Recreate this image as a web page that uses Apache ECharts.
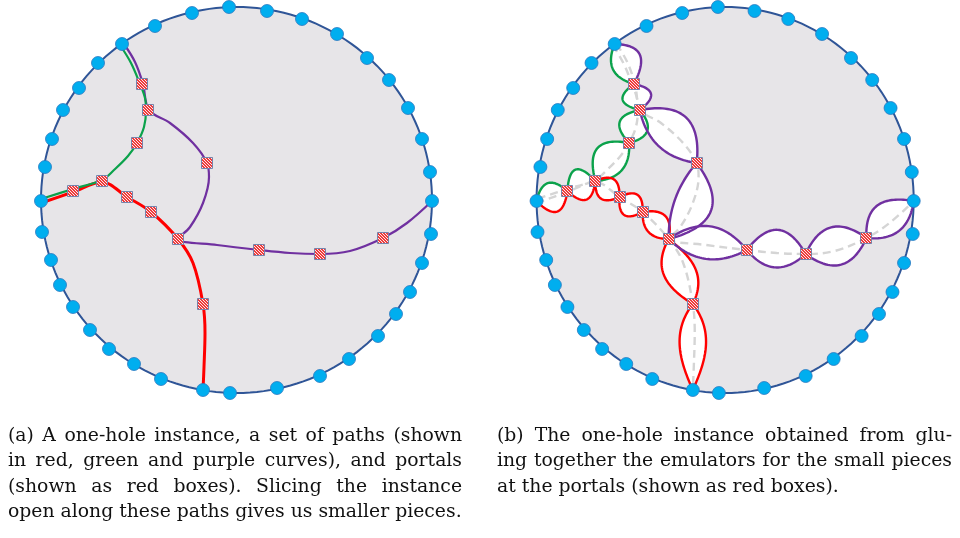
<!DOCTYPE html>
<html>
<head>
<meta charset="utf-8">
<script src="https://cdn.jsdelivr.net/npm/echarts@6/dist/echarts.min.js"></script>
<style>
  html, body { margin: 0; background: #fff; }
  #chart { width: 960px; height: 538px; }
</style>
</head>
<body>
<div id="chart"></div>
<script>
// ---- data (panel units, both panels share the same frame) ----

// hole outline: cx, cy, rx, ry
const holeOutline = [236.5, 200, 195.5, 193];

// blue terminals on the hole boundary
const rimDots = [
  [229, 7], [267, 11], [302, 19], [337, 34], [367, 58], [389, 80], [408, 108], [422, 139],
  [430, 172], [432, 201], [431, 234], [422, 263], [410, 292], [396, 314], [378, 336], [349, 359],
  [320, 376], [277, 388], [230, 393], [203, 390], [161, 379], [134, 364], [109, 349], [90, 330],
  [73, 307], [60, 285], [51, 260], [42, 232], [41, 201], [45, 167], [52, 139], [63, 110],
  [79, 88], [98, 63], [122, 44], [155, 26], [192, 13]
];

// portals (red boxes) P1..P13
const portals = [
  [142, 84], [148, 110], [137, 143], [207, 163], [102, 181], [73, 191], [127, 197],
  [151, 212], [178, 239], [259, 250], [320, 254], [383, 238], [203, 304]
];

// the three slicing paths
const purplePath = [
  [124, 44], [135, 62], [143, 84], [149, 110], [170, 123], [193, 143], [207, 163], [209, 177],
  [203, 203], [190, 227], [178, 239], [217, 245], [259, 250], [290, 253], [320, 254], [350, 251],
  [383, 238], [407, 223], [432, 201]
];
const greenPath = [
  [120, 45], [131, 63], [140, 84], [145, 98], [146, 110], [144, 127], [137, 143], [128, 156],
  [114, 170], [102, 180], [73, 189], [41, 199]
];
const redPath = [
  [41, 203], [73, 192], [102, 182], [127, 197], [151, 212], [178, 239], [193, 263], [203, 304],
  [205, 333], [204, 367], [203, 390]
];

// path end points on the rim
const rimEnds = { T: [122, 44], L: [41, 201], R: [432, 201], D: [203, 390] };

// emulator lenses of panel (b): from, to,
// right-hand bulge height (near start, near end), colour, left-hand bulge height (start, end), colour
const lenses = [
  ['T', 'P1', 13, 13, 'g', 22, 15, 'p'],
  ['P1', 'P2', 16, 14, 'g', 15, 15, 'p'],
  ['P2', 'P3', 16, 16, 'g', 14, 14, 'g'],
  ['P3', 'P5', 22, 20, 'g', 13, 13, 'g'],
  ['P5', 'P6', 18, 18, 'g', 15, 15, 'r'],
  ['P6', 'L', 14, 14, 'g', 17, 17, 'r'],
  ['P5', 'P7', 12, 12, 'r', 12, 12, 'r'],
  ['P7', 'P8', 13, 13, 'r', 12, 12, 'r'],
  ['P8', 'P9', 10, 10, 'r', 14, 14, 'r'],
  ['P9', 'P13', 21, 14, 'r', 11, 19, 'r'],
  ['P13', 'D', 17, 10, 'r', 17, 10, 'r'],
  ['P2', 'P4', 14, 14, 'p', 27, 27, 'p'],
  ['P4', 'P9', 8, 8, 'p', 32, 30, 'p'],
  ['P9', 'P10', 15, 15, 'p', 19, 19, 'p'],
  ['P10', 'P11', 16, 16, 'p', 23, 23, 'p'],
  ['P11', 'P12', 20, 20, 'p', 20, 20, 'p'],
  ['P12', 'R', 15, 15, 'p', 22, 17, 'p']
];

const captionA = [
  '(a) A one-hole instance, a set of paths (shown',
  'in red, green and purple curves), and portals',
  '(shown as red boxes). Slicing the instance',
  'open along these paths gives us smaller pieces.'
];
const captionB = [
  '(b) The one-hole instance obtained from glu-',
  'ing together the emulators for the small pieces',
  'at the portals (shown as red boxes).'
];

// ---- styling ----
const COLORS = { r: '#ff0000', g: '#0ba24b', p: '#7030a0' };
const FILL = '#e7e5e8';
const RIM = '#2f5597';
const LENS_SHAPE = 2.0; // flank exponent of the lens profile

const knots = Object.assign({}, rimEnds);
portals.forEach((p, i) => { knots['P' + (i + 1)] = p; });

const lensData = lenses.map(l => [...knots[l[0]], ...knots[l[1]], l[2], l[3], l[5], l[6]]);
const lensColours = lenses.map(l => [COLORS[l[4]], COLORS[l[7]]]);

// hatched red fill for portal boxes
const hatch = document.createElement('canvas');
hatch.width = 3; hatch.height = 3;
(() => {
  const c = hatch.getContext('2d');
  for (let y = 0; y < 3; y++) {
    for (let x = 0; x < 3; x++) {
      c.fillStyle = ((x - y + 3) % 3 < 2) ? '#ef3a3a' : '#fde8e8';
      c.fillRect(x, y, 1, 1);
    }
  }
})();

function renderHole(params, api) {
  const c = api.coord([api.value(0), api.value(1)]);
  const s = api.size([1, 1]);
  const rx = api.value(2) * s[0], ry = api.value(3) * s[1];
  const pts = [];
  for (let i = 0; i < 180; i++) {
    const a = i / 180 * Math.PI * 2;
    pts.push([c[0] + rx * Math.cos(a), c[1] + ry * Math.sin(a)]);
  }
  return {
    type: 'polygon',
    shape: { points: pts },
    style: { fill: FILL, stroke: RIM, lineWidth: 2 }
  };
}

function renderPortal(params, api) {
  const c = api.coord([api.value(0), api.value(1)]);
  return {
    type: 'rect',
    shape: { x: Math.round(c[0]) - 5.5, y: Math.round(c[1]) - 5.5, width: 11, height: 11 },
    style: { fill: { image: hatch, repeat: 'repeat' }, stroke: '#7584ad', lineWidth: 1 }
  };
}

function lensSides(api) {
  const a = api.coord([api.value(0), api.value(1)]);
  const b = api.coord([api.value(2), api.value(3)]);
  const s = api.size([1, 0])[0];
  const dx = b[0] - a[0], dy = b[1] - a[1];
  const len = Math.hypot(dx, dy);
  const nx = -dy / len, ny = dx / len;
  const side = (ha, hb) => {
    const pts = [];
    for (let i = 0; i <= 40; i++) {
      const t = i / 40;
      const off = (ha * (1 - t) + hb * t) * s * (1 - Math.pow(Math.abs(2 * t - 1), LENS_SHAPE));
      pts.push([a[0] + dx * t + nx * off, a[1] + dy * t + ny * off]);
    }
    return pts;
  };
  return [side(api.value(4), api.value(5)), side(-api.value(6), -api.value(7))];
}

function renderLensFill(params, api) {
  const [s1, s2] = lensSides(api);
  return {
    type: 'polygon',
    shape: { points: s1.concat(s2.slice().reverse()) },
    style: { fill: '#ffffff' }
  };
}

function renderLensStroke(params, api) {
  const [s1, s2] = lensSides(api);
  const col = lensColours[params.dataIndex];
  return {
    type: 'group',
    children: [
      { type: 'polyline', shape: { points: s1, smooth: 0 }, style: { stroke: col[0], lineWidth: 2.4, fill: null, lineJoin: 'round' } },
      { type: 'polyline', shape: { points: s2, smooth: 0 }, style: { stroke: col[1], lineWidth: 2.4, fill: null, lineJoin: 'round' } }
    ]
  };
}

// caption layout (justified like the LaTeX source)
const measure = document.createElement('canvas').getContext('2d');
measure.font = '20px "DejaVu Serif"';
const fitSize = 20 * 454 / measure.measureText(captionA[3]).width;
const captionFont = fitSize.toFixed(2) + 'px "DejaVu Serif"';
measure.font = captionFont;

function captionLines(lines, x0, x1, y0, lineGap) {
  const els = [];
  lines.forEach((line, li) => {
    const words = line.split(' ');
    const widths = words.map(w => measure.measureText(w).width);
    const total = widths.reduce((a, b) => a + b, 0);
    const justify = li < lines.length - 1;
    const gap = justify ? (x1 - x0 - total) / (words.length - 1) : measure.measureText(' ').width;
    let x = x0;
    words.forEach((w, i) => {
      els.push({
        type: 'text',
        x: x,
        y: y0 + li * lineGap,
        style: { text: w, font: captionFont, fill: '#111111', align: 'left', verticalAlign: 'middle' }
      });
      x += widths[i] + gap;
    });
  });
  return els;
}

function panelSeries(gi, emulated) {
  const base = { xAxisIndex: gi, yAxisIndex: gi };
  const out = [];
  out.push(Object.assign({
    type: 'custom', name: 'hole', renderItem: renderHole,
    data: [holeOutline], encode: { x: 0, y: 1 }, z: 1, silent: true
  }, base));
  if (emulated) {
    out.push(Object.assign({
      type: 'custom', name: 'lens fill', renderItem: renderLensFill,
      data: lensData, encode: { x: [0, 2], y: [1, 3] }, z: 2, silent: true
    }, base));
  }
  const paths = [['purple', purplePath, COLORS.p, 2.2], ['red', redPath, COLORS.r, 3], ['green', greenPath, COLORS.g, 2.2]];
  paths.forEach(([name, pts, col, w]) => {
    out.push(Object.assign({
      type: 'line', name: name, data: pts, smooth: 0.35, showSymbol: false, symbol: 'none',
      lineStyle: emulated
        ? { color: '#d5d5d5', width: 2.4, type: [8, 5] }
        : { color: col, width: w },
      z: 3, silent: true, animation: false
    }, base));
  });
  if (emulated) {
    out.push(Object.assign({
      type: 'custom', name: 'lens', renderItem: renderLensStroke,
      data: lensData, encode: { x: [0, 2], y: [1, 3] }, z: 4, silent: true
    }, base));
  }
  out.push(Object.assign({
    type: 'custom', name: 'portals', renderItem: renderPortal,
    data: portals, encode: { x: 0, y: 1 }, z: 5, silent: true
  }, base));
  out.push(Object.assign({
    type: 'scatter', name: 'terminals', data: rimDots, symbol: 'circle', symbolSize: 13,
    itemStyle: { color: '#00aeef', borderColor: '#2a78c0', borderWidth: 0.8, opacity: 1 },
    z: 6, silent: true
  }, base));
  return out;
}

const chart = echarts.init(document.getElementById('chart'));

const axisX = { type: 'value', min: 0, max: 480, show: false };
const axisY = { type: 'value', min: 0, max: 400, inverse: true, show: false };

chart.setOption({
  animation: false,
  backgroundColor: '#ffffff',
  grid: [
    { left: 0, top: 0, width: 480, height: 400 },
    { left: 497, top: 0, width: 480, height: 400 }
  ],
  xAxis: [Object.assign({ gridIndex: 0 }, axisX), Object.assign({ gridIndex: 1 }, axisX)],
  yAxis: [Object.assign({ gridIndex: 0 }, axisY), Object.assign({ gridIndex: 1 }, axisY)],
  series: panelSeries(0, false).concat(panelSeries(1, true)),
  graphic: captionLines(captionA, 8, 462, 436, 25.4)
    .concat(captionLines(captionB, 497, 952, 436, 25.4))
});

window.addEventListener('resize', () => chart.resize());
</script>
</body>
</html>
